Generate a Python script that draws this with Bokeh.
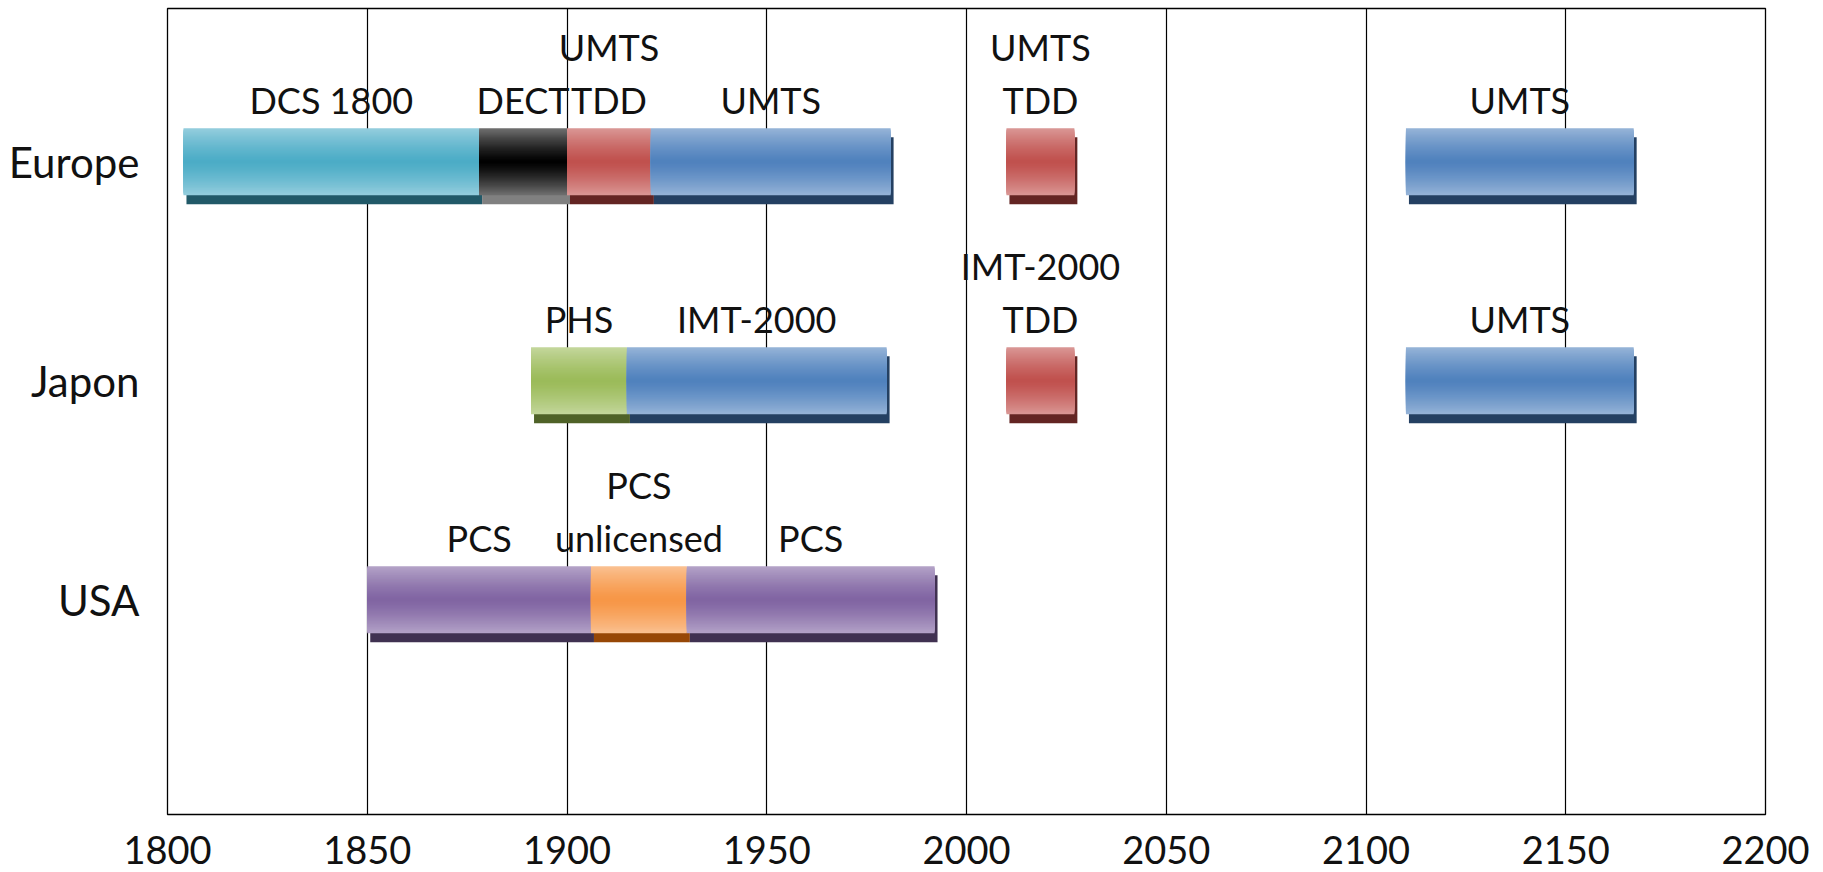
import numpy as np
from bokeh.plotting import figure
from bokeh.models import Range1d, FixedTicker, ColumnDataSource
from bokeh.core.properties import value
from bokeh.embed import file_html
from bokeh.resources import INLINE

# ---------------- data ----------------
regions = ["Europe", "Japon", "USA"]
x_ticks = [1800, 1850, 1900, 1950, 2000, 2050, 2100, 2150, 2200]

seg_region = ["Europe", "Europe", "Europe", "Europe", "Europe", "Europe",
              "Japon", "Japon", "Japon", "Japon",
              "USA", "USA", "USA"]
seg_start = [1804, 1878, 1900, 1921, 2010, 2110,
             1891, 1915, 2010, 2110,
             1850, 1906, 1930]
seg_end = [1878, 1900, 1921, 1981, 2027, 2167,
           1915, 1980, 2027, 2167,
           1906, 1930, 1992]
seg_label = ["DCS 1800", "DECT", "UMTS\nTDD", "UMTS", "UMTS\nTDD", "UMTS",
             "PHS", "IMT-2000", "IMT-2000\nTDD", "UMTS",
             "PCS", "PCS\nunlicensed", "PCS"]
seg_kind = ["dcs", "dect", "tdd", "umts", "tdd", "umts",
            "phs", "umts", "tdd", "umts",
            "pcs", "pcs_u", "pcs"]

# ---------------- styles ----------------
# kind -> (edge colour, middle colour, shadow colour)
styles = {
    "dcs":   ("#93cddd", "#4bacc6", "#215968"),
    "dect":  ("#6e6e6e", "#000000", "#808080"),
    "tdd":   ("#d99694", "#c0504d", "#632523"),
    "umts":  ("#95b3d7", "#4f81bd", "#244062"),
    "phs":   ("#c3d69b", "#9bbb59", "#4f6228"),
    "pcs":   ("#b3a2c7", "#8064a2", "#403151"),
    "pcs_u": ("#fac090", "#f79646", "#974706"),
}
FONT = "Lato"
BAR_H = 0.306
N_STEPS = 30


def hex2rgb(h):
    h = h.lstrip("#")
    return np.array([int(h[i:i + 2], 16) for i in (0, 2, 4)], dtype=float)


def rgb2hex(c):
    c = np.clip(np.round(c), 0, 255).astype(int)
    return "#%02x%02x%02x" % tuple(c)


row_of = {r: len(regions) - i for i, r in enumerate(regions)}

p = figure(frame_width=1598, frame_height=806,
           x_range=Range1d(1800, 2200), y_range=Range1d(0.02, 3.70),
           output_backend="svg", toolbar_location=None,
           min_border_left=167, min_border_right=48, min_border_top=8,
           min_border_bottom=56)
p.background_fill_color = "white"
p.border_fill_color = "white"
p.outline_line_color = "black"
p.outline_line_width = 1.3

# grid
p.xgrid.ticker = FixedTicker(ticks=x_ticks)
p.xgrid.grid_line_color = "black"
p.xgrid.grid_line_width = 1.2
p.xgrid.grid_line_alpha = 1.0
p.ygrid.grid_line_color = None

# axes
p.xaxis.ticker = FixedTicker(ticks=x_ticks)
p.yaxis.ticker = FixedTicker(ticks=[row_of[r] for r in regions])
p.yaxis.major_label_overrides = {row_of[r]: r for r in regions}
for ax in (p.xaxis[0], p.yaxis[0]):
    ax.axis_line_color = None
    ax.major_tick_line_color = None
    ax.minor_tick_line_color = None
    ax.major_label_text_font = FONT
    ax.major_label_text_color = "#111111"
p.xaxis.major_label_text_font_size = "38px"
p.yaxis.major_label_text_font_size = "42px"
p.xaxis.major_label_standoff = 15
p.yaxis.major_label_standoff = 22

# shadows
xs_off = 0.75      # ~3 px
ys_off = 0.041     # ~9 px
sh = dict(y=[], left=[], right=[], color=[])
st = dict(y=[], left=[], right=[], h=[], color=[])
for reg, a, b, k in zip(seg_region, seg_start, seg_end, seg_kind):
    yc = row_of[reg]
    edge, mid, shadow = styles[k]
    sh["y"].append(yc - ys_off)
    sh["left"].append(a + xs_off)
    sh["right"].append(b + xs_off)
    sh["color"].append(shadow)
    e, m = hex2rgb(edge), hex2rgb(mid)
    # nested, centred bars: from full height (edge colour) to thin (middle colour)
    for i in range(N_STEPS):
        t = 1 - i / N_STEPS
        c = m + (e - m) * t ** 1.3
        st["y"].append(yc)
        st["left"].append(a)
        st["right"].append(b)
        st["h"].append(BAR_H * t)
        st["color"].append(rgb2hex(c))

p.hbar(y="y", left="left", right="right", height=BAR_H, fill_color="color",
       line_color=None, source=ColumnDataSource(sh))
p.hbar(y="y", left="left", right="right", height="h",
       fill_color="color", line_color=None, source=ColumnDataSource(st))

# labels (one text glyph per line, stacked upward)
lab = dict(x=[], y=[], text=[], yoff=[])
for reg, a, b, txt in zip(seg_region, seg_start, seg_end, seg_label):
    lines = txt.split("\n")
    top = row_of[reg] + BAR_H / 2
    for k, line in enumerate(reversed(lines)):
        lab["x"].append((a + b) / 2)
        lab["y"].append(top)
        lab["text"].append(line)
        lab["yoff"].append(-(28 + 53 * k))
p.text(x="x", y="y", text="text", y_offset="yoff", source=ColumnDataSource(lab),
       text_font=value(FONT), text_font_size="36px", text_color="#111111",
       text_align="center", text_baseline="middle")

open("out.html", "w").write(file_html(p, INLINE))
